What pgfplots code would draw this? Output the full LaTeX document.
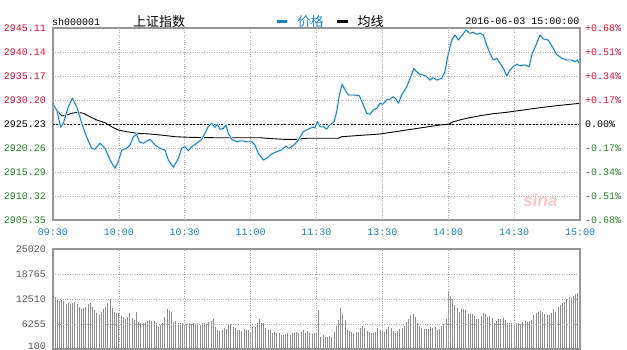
\documentclass[border=0pt]{standalone}
\usepackage{pgfplots}
\pgfplotsset{compat=1.18}
\usepackage{pgfplotstable}
\usepackage{fontspec}
\setmainfont{Liberation Sans}
\newfontfamily\mono{Liberation Mono}
\newfontfamily\cjk{Noto Sans CJK SC}
\definecolor{upred}{RGB}{204,20,50}
\definecolor{dngreen}{RGB}{40,130,40}
\definecolor{timeblue}{RGB}{30,130,190}
\definecolor{priceblue}{RGB}{40,120,170}
\definecolor{halo}{RGB}{205,238,248}
\definecolor{gridgray}{RGB}{175,175,175}
\definecolor{framegray}{RGB}{150,150,150}
\definecolor{volgray}{RGB}{140,140,140}

\pgfplotstableread{
m v
0 2929.27
1.7 2928.13
3.5 2924.55
4.7 2925.37
7.0 2928.81
8.8 2930.55
10.8 2928.81
13.1 2925.37
15.3 2922.60
17.6 2920.20
19.1 2919.99
21.4 2921.23
23.7 2920.20
26.0 2917.78
28.2 2916.06
29.7 2917.42
31.3 2919.85
33.6 2920.20
35.1 2920.88
36.6 2922.60
38.1 2923.10
39.3 2921.56
41.1 2921.23
44.2 2922.06
46.5 2920.88
48.7 2920.20
51.0 2919.85
52.5 2917.78
54.8 2916.26
57.1 2918.13
58.6 2920.20
60.1 2920.53
61.6 2919.70
63.2 2920.53
65.4 2921.23
67.7 2922.06
69.2 2923.30
70.7 2924.67
72.3 2925.37
73.8 2924.55
74.8 2925.17
76.1 2924.13
77.6 2924.34
78.8 2925.02
79.8 2923.30
81.4 2922.06
83.7 2921.56
85.9 2921.77
88.2 2921.56
90.5 2921.56
92.0 2920.88
93.5 2919.16
95.8 2917.78
97.3 2918.13
99.6 2919.02
101.9 2919.49
104.1 2919.85
106.1 2920.67
107.2 2920.20
108.7 2920.53
110.2 2921.09
111.7 2921.92
114.0 2923.64
116.3 2924.19
118.3 2924.55
119.3 2924.46
120.4 2925.71
121.6 2924.67
123.1 2924.67
124.6 2924.19
126.1 2925.02
128.0 2925.71
129.2 2927.78
130.4 2931.24
131.7 2933.45
133.0 2932.27
134.5 2931.24
136.8 2931.24
139.5 2931.09
141.0 2929.52
142.9 2927.45
144.4 2927.24
145.9 2928.13
147.4 2928.48
148.9 2929.52
150.1 2929.31
152.0 2930.20
153.5 2930.41
155.0 2930.88
156.2 2930.41
157.3 2929.52
158.8 2931.24
161.1 2932.95
162.6 2934.69
164.4 2936.76
165.6 2936.06
167.1 2935.52
168.6 2935.38
170.2 2935.03
171.7 2934.34
173.2 2934.82
174.7 2934.34
177.0 2934.69
178.5 2936.06
179.6 2938.84
181.6 2942.63
183.1 2943.66
184.6 2942.63
186.6 2943.81
188.1 2944.70
189.9 2944.01
191.4 2944.22
193.0 2943.81
194.5 2944.01
196.0 2943.66
197.5 2941.59
199.0 2939.87
200.5 2938.48
202.1 2938.84
203.6 2937.80
205.1 2936.76
206.6 2935.17
208.1 2936.41
209.6 2937.10
211.2 2937.59
212.7 2937.30
215.0 2937.45
216.9 2937.10
218.0 2939.52
220.3 2941.94
221.8 2943.66
223.3 2942.83
225.5 2942.63
227.8 2940.91
229.3 2939.66
231.7 2938.84
234.0 2938.48
236.2 2938.48
237.7 2938.13
238.8 2938.48
239.7 2937.80
240 2938.48
}\price

\pgfplotstableread{
m v
0 2929.37
1.7 2928.13
4.0 2926.89
6.2 2927.09
8.5 2927.45
11.5 2927.65
13.8 2927.45
16.9 2926.74
19.9 2926.06
23.7 2925.50
26.7 2924.67
29.7 2923.99
33.6 2923.64
38.1 2923.30
44.2 2923.16
50.2 2922.89
55.6 2922.60
61.6 2922.48
73.0 2922.39
94.3 2922.39
97.3 2922.27
104.9 2922.06
111.0 2922.06
115.5 2922.27
121.3 2922.27
129.9 2922.27
131.5 2922.60
148.9 2923.16
176.2 2925.02
180.0 2925.17
182.3 2925.71
185.3 2926.06
188.4 2926.41
194.5 2926.95
200.5 2927.36
206.6 2927.65
214.2 2928.13
221.8 2928.61
229.4 2929.02
236.9 2929.37
240 2929.52
}\avgline

\pgfplotstableread{
m v
0 14425
1 13175
2 12350
3 12100
4 12350
5 12100
6 11350
7 11525
8 11350
9 11675
10 11775
11 11350
12 10675
13 10025
14 10275
15 10675
16 11275
17 11675
18 10675
19 9850
20 9175
21 8600
22 9425
23 10025
24 10675
25 11675
26 12525
27 10275
28 9275
29 9025
30 9175
31 8350
32 8025
33 7525
34 8175
35 9025
36 7775
37 7350
38 9275
39 6925
40 6525
41 6675
42 6925
43 7175
44 7350
45 7100
46 7100
47 6525
48 5675
49 6100
50 6675
51 8175
52 10025
53 9675
54 9425
55 6925
56 7175
57 6525
58 6675
59 6525
60 6100
61 6275
62 6525
63 6350
64 6675
65 6350
66 6525
67 6100
68 6525
69 6525
70 6350
71 6925
72 7175
73 7525
74 5675
75 4850
76 4675
77 4850
78 5275
79 5025
80 6100
81 6350
82 5675
83 5275
84 4850
85 4850
86 4600
87 5025
88 4850
89 4850
90 4425
91 5675
92 5675
93 6675
94 7525
95 6525
96 6525
97 5275
98 4850
99 4850
100 4175
101 4425
102 4025
103 4175
104 3600
105 3600
106 3775
107 4025
108 3600
109 4025
110 4175
111 4425
112 4175
113 4425
114 4850
115 4025
116 4675
117 4025
118 3775
119 4025
120 4025
121 9850
122 3175
123 3600
124 3175
125 3025
126 3350
127 3025
128 4425
129 5850
130 7350
131 10275
132 8850
133 7350
134 4850
135 4675
136 4425
137 4175
138 4425
139 4425
140 5275
141 5850
142 5275
143 4675
144 4425
145 4175
146 4175
147 4425
148 5275
149 4850
150 4675
151 4425
152 5025
153 5525
154 5275
155 4675
156 4175
157 4675
158 5025
159 5275
160 5850
161 6925
162 7525
163 8600
164 8850
165 8175
166 6675
167 5850
168 5275
169 5025
170 5025
171 5025
172 5525
173 5275
174 5525
175 4850
176 5025
177 5850
178 6350
179 7525
180 14425
181 13350
182 12525
183 11100
184 10275
185 9425
186 10025
187 10025
188 9850
189 8850
190 8850
191 8850
192 8350
193 7525
194 7525
195 8350
196 9175
197 8850
198 8175
199 8350
200 7775
201 6675
202 7175
203 7525
204 7525
205 7775
206 7350
207 6675
208 6525
209 6675
210 6350
211 6525
212 6675
213 6350
214 6925
215 7175
216 6925
217 7175
218 7350
219 8600
220 9175
221 9425
222 9675
223 9425
224 8850
225 8600
226 8600
227 9025
228 10025
229 9425
230 10675
231 11100
232 11525
233 11925
234 12525
235 13025
236 12775
237 13350
238 13850
239 14025
240 17350
}\volume

\begin{document}
\begin{tikzpicture}
\useasboundingbox (0pt,0pt) rectangle (627pt,350pt);
\clip (0pt,0pt) rectangle (627pt,350pt);

% title row
\node[anchor=west, inner sep=0pt, font=\mono\fontsize{10}{12}\selectfont] at (52pt,328.5pt) {sh000001};
\node[anchor=west, inner sep=0pt, font=\cjk\fontsize{13}{14}\selectfont] at (133pt,328.5pt) {上证指数};
\draw[timeblue, line width=2.7pt] (277pt,328.5pt) -- (287pt,328.5pt);
\node[anchor=west, inner sep=0pt, text=timeblue, font=\cjk\fontsize{13}{14}\selectfont] at (297.5pt,328.5pt) {价格};
\draw[black, line width=2.7pt] (337pt,328.5pt) -- (348pt,328.5pt);
\node[anchor=west, inner sep=0pt, font=\cjk\fontsize{13}{14}\selectfont] at (357.5pt,328.5pt) {均线};
\node[anchor=east, inner sep=0pt, font=\mono\fontsize{10}{12}\selectfont] at (579.5pt,328.5pt) {2016-06-03 15:00:00};

\begin{axis}[
  at={(53pt,130pt)}, anchor=south west, width=527pt, height=192pt, scale only axis,
  xmin=0, xmax=240, ymin=2905.35, ymax=2945.11,
  xtick={0,30,60,90,120,150,180,210,240},
  xticklabels={09:30,10:00,10:30,11:00,11:30,13:30,14:00,14:30,15:00},
  ytick={2905.35,2910.32,2915.29,2920.26,2925.23,2930.20,2935.17,2940.14,2945.11},
  yticklabels={\textcolor{dngreen}{2905.35},\textcolor{dngreen}{2910.32},\textcolor{dngreen}{2915.29},\textcolor{dngreen}{2920.26},\textcolor{black}{2925.23},\textcolor{upred}{2930.20},\textcolor{upred}{2935.17},\textcolor{upred}{2940.14},\textcolor{upred}{2945.11}},
  grid=major, major grid style={gridgray, dotted, line width=0.7pt},
  axis line style={framegray, line width=1.1pt},
  major tick length=0pt,
  ticklabel style={font=\mono\fontsize{10}{12}\selectfont},
  xticklabel style={text=timeblue, yshift=-5pt},
  yticklabel style={xshift=-3.7pt},
  scaled y ticks=false,
]
\node[font=\bfseries\itshape\fontsize{17}{17}\selectfont, text=red!22] at (axis cs:222,2909.5) {sina};
\addplot[black, dash pattern=on 2pt off 1.5pt, line width=0.8pt] coordinates {(0,2925.23) (240,2925.23)};
\addplot[black, line width=0.9pt] table[x=m, y=v] {\avgline};
\addplot[halo, line width=2.4pt, line join=round] table[x=m, y=v] {\price};
\addplot[priceblue, line width=0.85pt, line join=round] table[x=m, y=v] {\price};
\end{axis}

\begin{axis}[
  at={(53pt,130pt)}, anchor=south west, width=527pt, height=192pt, scale only axis,
  xmin=0, xmax=240, ymin=2905.35, ymax=2945.11,
  axis y line*=right, axis x line=none,
  ytick={2905.35,2910.32,2915.29,2920.26,2925.23,2930.20,2935.17,2940.14,2945.11},
  yticklabels={\textcolor{dngreen}{-0.68\%},\textcolor{dngreen}{-0.51\%},\textcolor{dngreen}{-0.34\%},\textcolor{dngreen}{-0.17\%},\textcolor{black}{0.00\%},\textcolor{upred}{+0.17\%},\textcolor{upred}{+0.34\%},\textcolor{upred}{+0.51\%},\textcolor{upred}{+0.68\%}},
  axis line style={framegray, line width=1.1pt},
  major tick length=0pt,
  ticklabel style={font=\mono\fontsize{10}{12}\selectfont},
  yticklabel style={xshift=1.7pt},
  scaled y ticks=false,
]
\end{axis}

\begin{axis}[
  at={(53pt,1pt)}, anchor=south west, width=527pt, height=100pt, scale only axis,
  xmin=0, xmax=240, ymin=100, ymax=25020,
  xtick={0,30,60,90,120,150,180,210,240}, xticklabels={},
  ytick={100,6255,12510,18765,25020},
  yticklabels={\raisebox{6pt}{100},6255,12510,18765,25020},
  grid=major, major grid style={gridgray, dotted, line width=0.7pt},
  axis line style={framegray, line width=1.1pt},
  major tick length=0pt,
  ticklabel style={font=\mono\fontsize{10}{12}\selectfont, text=black!65},
  yticklabel style={xshift=-3.7pt},
  scaled y ticks=false,
  axis on top,
]
\addplot[ycomb, volgray, line width=1pt, mark=none] table[x=m, y=v] {\volume};
\end{axis}
\end{tikzpicture}
\end{document}
